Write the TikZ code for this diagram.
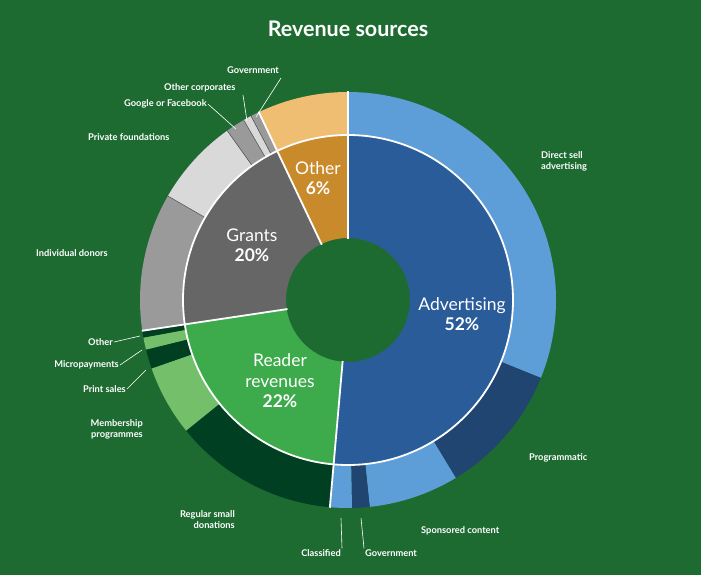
\documentclass[tikz,border=0pt]{standalone}
\usepackage{fontspec}
\setmainfont{Lato}
\definecolor{bg}{HTML}{1E6B32}
\definecolor{advI}{HTML}{2A5C99}
\definecolor{advL}{HTML}{5E9ED8}
\definecolor{advD}{HTML}{1F4570}
\definecolor{rdI}{HTML}{3DAA4B}
\definecolor{rdD}{HTML}{003F22}
\definecolor{rdL}{HTML}{74BF6A}
\definecolor{grI}{HTML}{666666}
\definecolor{grM}{HTML}{9A9A9A}
\definecolor{grL}{HTML}{D9D9D9}
\definecolor{otI}{HTML}{C98A2B}
\definecolor{otL}{HTML}{F0BE72}
\newcommand\myseg[5]{\fill[#5] (#1:#3) arc[start angle=#1,end angle=#2,radius=#3] -- (#2:#4) arc[start angle=#2,end angle=#1,radius=#4] -- cycle;}
\newcommand\mysep[1]{\draw[white,line width=1.8pt] (#1:61) -- (#1:208.5);}
\tikzset{lab/.style={text=white,font=\bfseries\fontsize{9.3}{11}\selectfont,inner sep=1pt},
big/.style={text=white,font=\fontsize{17.5}{20.5}\selectfont,align=center},
lead/.style={white,line width=0.6pt}}
\begin{document}
\begin{tikzpicture}[x=1pt,y=-1pt]
\fill[bg] (0,0) rectangle (701,575);
\useasboundingbox (0,0) rectangle (701,575);
\node[text=white,font=\bfseries\fontsize{21.5}{25}\selectfont] (title) at (348,29) {Revenue sources};
\begin{scope}[shift={(348,300)}]
% inner ring
\myseg{-90}{95}{62}{165}{advI}
\myseg{95}{171.5}{62}{165}{rdI}
\myseg{171.5}{244.6}{62}{165}{grI}
\myseg{244.6}{270}{62}{165}{otI}
% outer ring
\myseg{-90}{22}{165}{208}{advL}
\myseg{22}{58.8}{165}{208}{advD}
\myseg{58.8}{84}{165}{208}{advL}
\myseg{84}{88.9}{165}{208}{advD}
\myseg{88.9}{95}{165}{208}{advL}
\myseg{95}{141.1}{165}{208}{rdD}
\myseg{141.1}{160.8}{165}{208}{rdL}
\myseg{160.8}{166.2}{165}{208}{rdD}
\myseg{166.2}{169.6}{165}{208}{rdL}
\myseg{169.6}{171.5}{165}{208}{rdD}
\myseg{171.5}{210}{165}{208}{grM}
\myseg{210}{234.5}{165}{208}{grL}
\myseg{234.5}{239.9}{165}{208}{grM}
\myseg{239.9}{242.2}{165}{208}{grL}
\myseg{242.2}{244.6}{165}{208}{grM}
\myseg{244.6}{270}{165}{208}{otL}
\foreach \a in {210,234.5,239.9,242.2} \draw[black!70,line width=0.5pt] (\a:165) -- (\a:208);
\draw[white,line width=1.8pt] (0,0) circle[radius=165];
\mysep{-90}\mysep{95}\mysep{171.5}\mysep{244.6}
\fill[bg] (0,0) circle[radius=61];
\end{scope}
% inner labels
\node[big] (adv) at (462,314) {Advertising\\\textbf{52\%}};
\node[big] (rd) at (280,381) {Reader\\revenues\\\textbf{22\%}};
\node[big] (gr) at (252,245) {Grants\\\textbf{20\%}};
\node[big] (ot) at (318,178) {Other\\\textbf{6\%}};
% outer labels
\node[lab,anchor=west,align=left] (l1) at (540,161) {Direct sell\\advertising};
\node[lab,anchor=west] (l2) at (528,458) {Programmatic};
\node[lab,anchor=west] (l3) at (420,531) {Sponsored content};
\node[lab,anchor=west] (l4) at (364,553) {Government};
\node[lab,anchor=east] (l5) at (342,553) {Classified};
\node[lab,anchor=east,align=right] (l6) at (236,520) {Regular small\\donations};
\node[lab,anchor=east,align=right] (l7) at (144,429) {Membership\\programmes};
\node[lab,anchor=east] (l8) at (127,389) {Print sales};
\node[lab,anchor=east] (l9) at (120,365) {Micropayments};
\node[lab,anchor=east] (l10) at (114,342) {Other};
\node[lab,anchor=west] (l11) at (35,253) {Individual donors};
\node[lab,anchor=west] (l12) at (87,137) {Private foundations};
\node[lab,anchor=west] (l13) at (123,104) {Google or Facebook};
\node[lab,anchor=west] (l14) at (163,88) {Other corporates};
\node[lab,anchor=west] (l15) at (226,70) {Government};
\coordinate (c5) at (341,518);
\coordinate (c4) at (361,518);
\coordinate (c8) at (146,370);
\coordinate (c9) at (142,350);
\coordinate (c10) at (140,336);
\coordinate (c13) at (236,129);
\coordinate (c14) at (247,121);
\coordinate (c15) at (256,117);
\coordinate (s14) at (243,95);
\coordinate (s15) at (281,78);
\draw[lead] (l5.north east) -- (c5);
\draw[lead] (l4.north west) -- (c4);
\draw[lead] (l8.east) -- (c8);
\draw[lead] (l9.east) -- (c9);
\draw[lead] (l10.east) -- (c10);
\draw[lead] (l13.east) -- (c13);
\draw[lead] (s14) -- (c14);
\draw[lead] (s15) -- (c15);
\end{tikzpicture}
\end{document}
